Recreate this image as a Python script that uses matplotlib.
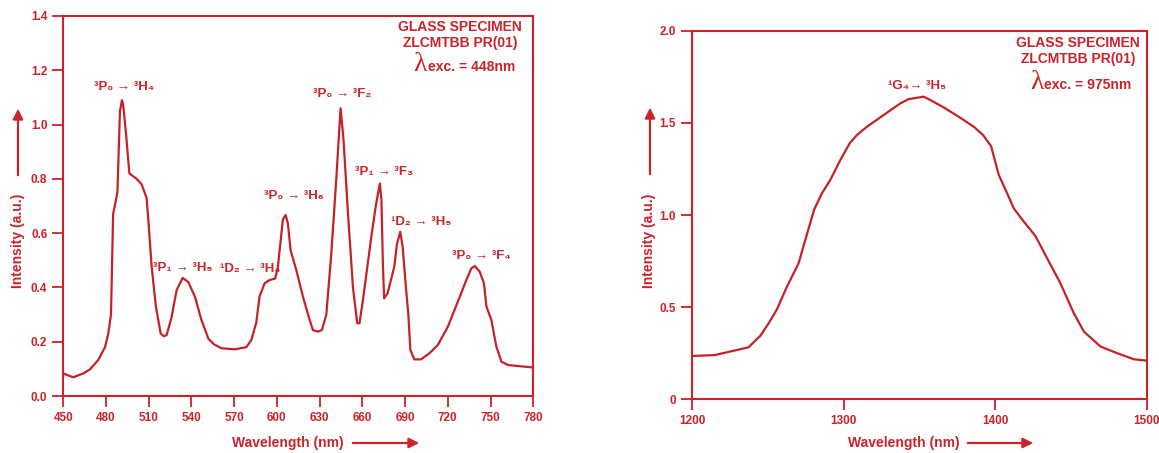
import matplotlib
matplotlib.use("Agg")
import matplotlib.pyplot as plt

plt.rcParams['font.family'] = ['Liberation Sans', 'DejaVu Sans']
plt.rcParams['font.weight'] = 'bold'

red = '#cc2229'
line_red = '#c42228'

# emission spectrum, 448 nm excitation (visible)
vis_wl = [450, 457, 464, 468.7, 474.6, 479.3, 481.6, 483.5, 485, 488, 489.8, 491.2, 492,
          494, 496.4, 501.5, 505, 508.5, 509.7, 512, 515, 518.4, 520.7, 522.6, 526,
          529.6, 533.8, 537.8, 542.5, 547, 552, 556, 561, 570.3, 578.5, 582, 585.5,
          587.8, 591.3, 594.8, 598.8, 600.7, 604.2, 606.1, 607.7, 609.6, 613.6,
          618.3, 623, 625.3, 628.8, 631.6, 634.7, 638.2, 641.7, 644.7, 646.8, 649.9,
          653.4, 656.4, 658, 660.4, 666, 669.4, 672.3, 673.4, 674.4, 675.3, 677.7,
          682.4, 684.3, 686.6, 688.3, 690.6, 692.3, 693.7, 696.5, 701.2, 707, 713,
          720, 727, 733, 736.5, 738.9, 742.4, 745.4, 747.1, 750.6, 754.1, 757.7,
          762.4, 780]
vis_int = [0.083, 0.069, 0.083, 0.098, 0.133, 0.18, 0.23, 0.30, 0.67, 0.75, 1.05, 1.09, 1.075,
           0.97, 0.82, 0.80, 0.78, 0.73, 0.65, 0.48, 0.33, 0.23, 0.22, 0.225, 0.29,
           0.39, 0.435, 0.42, 0.365, 0.28, 0.21, 0.19, 0.176, 0.172, 0.18, 0.206, 0.27,
           0.366, 0.415, 0.427, 0.433, 0.476, 0.65, 0.667, 0.636, 0.538, 0.464,
           0.366, 0.28, 0.243, 0.237, 0.243, 0.30, 0.525, 0.80, 1.06, 0.943, 0.673,
           0.40, 0.268, 0.268, 0.354, 0.575, 0.70, 0.783, 0.72, 0.49, 0.36, 0.378,
           0.476, 0.56, 0.605, 0.55, 0.40, 0.30, 0.17, 0.135, 0.135, 0.157, 0.188,
           0.255, 0.347, 0.427, 0.47, 0.479, 0.458, 0.415, 0.33, 0.28, 0.182, 0.126,
           0.114, 0.105]

vis_labels = ['³P₀ → ³H₄', '³P₁ → ³H₅', '¹D₂ → ³H₄', '³P₀ → ³H₆',
              '³P₀ → ³F₂', '³P₁ → ³F₃', '¹D₂ → ³H₅', '³P₀ → ³F₄']
vis_label_x = [492.7, 534.1, 581.2, 612.1, 645.8, 675.3, 701.3, 743.5]
vis_label_y = [1.138, 0.471, 0.468, 0.737, 1.112, 0.825, 0.641, 0.516]

# NIR emission, 975 nm excitation
nir_wl = [1200, 1215, 1225, 1237.2, 1245, 1250.5, 1256, 1262.6, 1270.3, 1274.7, 1280.6,
          1285.7, 1291.2, 1297.8, 1304, 1308.8, 1315.4, 1326.5, 1337.5, 1343, 1352.8,
          1357.2, 1366, 1376, 1385.9, 1392, 1397.3, 1402.4, 1407.9, 1412.3, 1418.9,
          1426.6, 1434.3, 1443.1, 1451.9, 1458.6, 1469.6, 1480.6, 1491.6, 1500]
nir_int = [0.235, 0.24, 0.259, 0.282, 0.344, 0.412, 0.488, 0.611, 0.738, 0.864, 1.03,
           1.118, 1.19, 1.298, 1.389, 1.434, 1.479, 1.543, 1.606, 1.629, 1.642,
           1.624, 1.584, 1.533, 1.479, 1.434, 1.374, 1.217, 1.118, 1.036, 0.964,
           0.886, 0.765, 0.629, 0.467, 0.367, 0.286, 0.25, 0.217, 0.21]

vis_xticks = list(range(450, 781, 30))
vis_yticks = [0.0, 0.2, 0.4, 0.6, 0.8, 1.0, 1.2, 1.4]
nir_xticks = [1200, 1300, 1400, 1500]
nir_yticks = [0, 0.5, 1.0, 1.5, 2.0]
nir_yticklabels = ['0', '0.5', '1.0', '1.5', '2.0']

fig = plt.figure(figsize=(11.59, 4.53), dpi=100)
ax1 = fig.add_axes([0.0546, 0.1258, 0.4055, 0.8389])
ax2 = fig.add_axes([0.5971, 0.1185, 0.3923, 0.8137])


def style(ax):
    for s in ax.spines.values():
        s.set_color(red)
        s.set_linewidth(1.5)
    ax.tick_params(direction='out', length=8, width=1.3, color=red,
                   labelcolor=red, labelsize=8.5)
    for t in ax.get_xticklabels() + ax.get_yticklabels():
        t.set_fontweight('bold')


ax1.plot(vis_wl, vis_int, color=line_red, lw=1.6)
ax1.set_xlim(450, 780)
ax1.set_ylim(0, 1.4)
ax1.set_xticks(vis_xticks)
ax1.set_yticks(vis_yticks)
ax1.set_yticklabels(['%.1f' % v for v in vis_yticks])
style(ax1)
for lab, x, y in zip(vis_labels, vis_label_x, vis_label_y):
    ax1.text(x, y, lab, color=red, fontsize=9.5, fontweight='bold', ha='center', va='center')

ax2.plot(nir_wl, nir_int, color=line_red, lw=1.6)
ax2.set_xlim(1200, 1500)
ax2.set_ylim(0, 2.0)
ax2.set_xticks(nir_xticks)
ax2.set_yticks(nir_yticks)
ax2.set_yticklabels(nir_yticklabels)
style(ax2)
ax2.text(1348.7, 1.70, '¹G₄→ ³H₅', color=red, fontsize=9.5, fontweight='bold', ha='center', va='center')

# specimen boxes: (axes, centre x, glass y, zlcm y, lambda baseline y, excitation)
boxes = [(ax1, 0.844, 0.972, 0.928, 0.855, '448nm'),
         (ax2, 0.849, 0.967, 0.923, 0.842, '975nm')]
for ax, fx, gy, zy, ly, exc in boxes:
    ax.text(fx, gy, 'GLASS SPECIMEN', transform=ax.transAxes,
            color=red, fontsize=10, fontweight='bold', ha='center', va='center')
    ax.text(fx, zy, 'ZLCMTBB PR(01)', transform=ax.transAxes,
            color=red, fontsize=10, fontweight='bold', ha='center', va='center')
    ax.text(0.774, ly, 'λ', transform=ax.transAxes, color=red, fontsize=20,
            family='Liberation Serif', fontweight='normal', ha='right', va='baseline')
    ax.text(0.775, ly, 'exc. = ' + exc, transform=ax.transAxes, color=red,
            fontsize=10, fontweight='bold', ha='left', va='baseline')

# axis titles with arrows, placed in figure pixels
W, H = 1159, 453
fig.text(18 / W, 1 - 241 / H, 'Intensity (a.u.)', rotation=90, color=red, fontsize=10,
         fontweight='bold', ha='center', va='center')
fig.text(649 / W, 1 - 241 / H, 'Intensity (a.u.)', rotation=90, color=red, fontsize=10,
         fontweight='bold', ha='center', va='center')
fig.text(288 / W, 1 - 443 / H, 'Wavelength (nm)', color=red, fontsize=10,
         fontweight='bold', ha='center', va='center')
fig.text(904 / W, 1 - 443 / H, 'Wavelength (nm)', color=red, fontsize=10,
         fontweight='bold', ha='center', va='center')

arrows = [((18, 178), (18, 106)), ((650, 177), (650, 105)),
          ((350, 443), (422, 443)), ((965, 443), (1036, 443))]
for (x0, y0), (x1, y1) in arrows:
    fig.add_artist(matplotlib.patches.FancyArrowPatch(
        (x0 / W, 1 - y0 / H), (x1 / W, 1 - y1 / H), transform=fig.transFigure,
        arrowstyle='-|>,head_length=6,head_width=3', color=red, lw=1.6))

fig.savefig('out.png', dpi=100)
